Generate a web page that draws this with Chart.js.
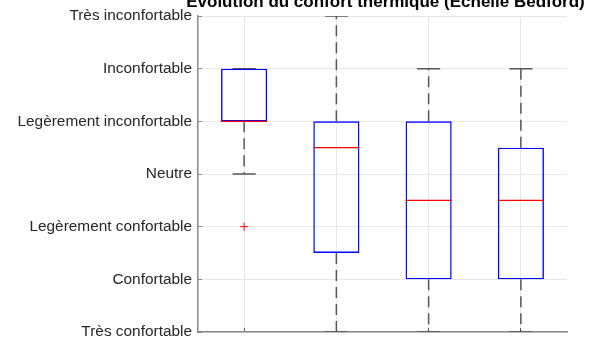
<!DOCTYPE html>
<html>
<head>
<meta charset="utf-8">
<script src="https://cdn.jsdelivr.net/npm/chart.js@4"></script>
<style>
  html, body { margin: 0; padding: 0; background: #fff; }
  #wrap { width: 592px; height: 341px; position: relative; }
</style>
</head>
<body>
<div id="wrap"><canvas id="boxChart"></canvas></div>
<script>
/* ── data ── */
const chartTitle   = 'Évolution du confort thermique (Échelle Bedford)';
const comfortScale = ['Très confortable', 'Confortable', 'Legèrement confortable', 'Neutre',
                      'Legèrement inconfortable', 'Inconfortable', 'Très inconfortable'];
const groups       = [1, 2, 3, 4];
const whiskerLow   = [4, 1, 1, 1];
const q1           = [5, 2.5, 2, 2];
const median       = [5, 4.5, 3.5, 3.5];
const q3           = [6, 5, 5, 4.5];
const whiskerHigh  = [6, 7, 6, 6];
const outlierX     = [1];
const outlierY     = [3];

/* ── helpers: build segments (null breaks the line) ── */
function hSegments(values, half) {
  const pts = [];
  groups.forEach((g, i) => {
    pts.push({ x: g - half, y: values[i] }, { x: g + half, y: values[i] }, { x: g, y: null });
  });
  return pts;
}

function whiskerSegments() {
  const pts = [];
  groups.forEach((g, i) => {
    pts.push({ x: g, y: q1[i] }, { x: g, y: whiskerLow[i] }, { x: g, y: null });
    pts.push({ x: g, y: q3[i] }, { x: g, y: whiskerHigh[i] }, { x: g, y: null });
  });
  return pts;
}

/* ── title drawn over the plot area ── */
const titlePlugin = {
  id: 'plotTitle',
  afterDraw(chart) {
    const { ctx, chartArea } = chart;
    ctx.save();
    ctx.font = 'bold 17px "Liberation Sans", Arial, sans-serif';
    ctx.fillStyle = '#000';
    ctx.textAlign = 'center';
    ctx.textBaseline = 'alphabetic';
    ctx.fillText(chartTitle, (chartArea.left + chartArea.right) / 2 + 3, 7);
    ctx.restore();
  }
};

const lineBase = { type: 'line', pointRadius: 0, spanGaps: false, tension: 0, fill: false };

new Chart(document.getElementById('boxChart'), {
  data: {
    datasets: [
      {
        type: 'scatter',
        label: 'Valeurs aberrantes',
        data: outlierX.map((x, i) => ({ x, y: outlierY[i] })),
        pointStyle: 'cross',
        pointRadius: 4,
        borderColor: '#ff0000',
        borderWidth: 1,
        order: 0
      },
      {
        ...lineBase,
        label: 'Médiane',
        data: hSegments(median, 0.25),
        borderColor: '#ff0000',
        borderWidth: 1.3,
        order: 1
      },
      {
        type: 'bar',
        label: 'Boîte',
        data: groups.map((g, i) => ({ x: g, y: [q1[i], q3[i]] })),
        backgroundColor: 'rgba(0,0,0,0)',
        borderColor: '#0000ff',
        borderWidth: 1.4,
        borderSkipped: false,
        barPercentage: 0.5,
        categoryPercentage: 1,
        order: 2
      },
      {
        ...lineBase,
        label: 'Extrémités',
        data: hSegments(whiskerLow, 0.125).concat(hSegments(whiskerHigh, 0.125)),
        borderColor: '#555',
        borderWidth: 1.5,
        order: 3
      },
      {
        ...lineBase,
        label: 'Moustaches',
        data: whiskerSegments(),
        borderColor: '#555',
        borderWidth: 1.5,
        borderDash: [11, 6],
        order: 4
      }
    ]
  },
  options: {
    responsive: true,
    maintainAspectRatio: false,
    animation: false,
    layout: { padding: { top: 16, right: 25, bottom: 9, left: 0 } },
    plugins: {
      legend: { display: false },
      tooltip: { enabled: false },
      title: { display: false }
    },
    scales: {
      x: {
        type: 'linear',
        min: 0.5,
        max: 4.5,
        offset: false,
        afterBuildTicks: scale => { scale.ticks = groups.map(v => ({ value: v })); },
        afterFit: scale => { scale.height = 0; scale.paddingLeft = 0; scale.paddingRight = 0; },
        ticks: { display: false },
        grid: { color: '#e8e8e8', offset: false, tickLength: -4, tickColor: '#555' },
        border: { color: '#8a8a8a', width: 1.5 }
      },
      y: {
        type: 'linear',
        min: 1,
        max: 7,
        afterFit: scale => { scale.width = 198; scale.paddingTop = 0; scale.paddingBottom = 0; },
        ticks: {
          stepSize: 1,
          padding: 10,
          color: '#262626',
          font: { family: '"Liberation Sans", Arial, sans-serif', size: 15.4 },
          callback: v => comfortScale[v - 1]
        },
        grid: { color: '#e8e8e8', tickLength: -4, tickColor: '#8a8a8a' },
        border: { color: '#8a8a8a', width: 1.5 }
      }
    }
  },
  plugins: [titlePlugin]
});
</script>
</body>
</html>
